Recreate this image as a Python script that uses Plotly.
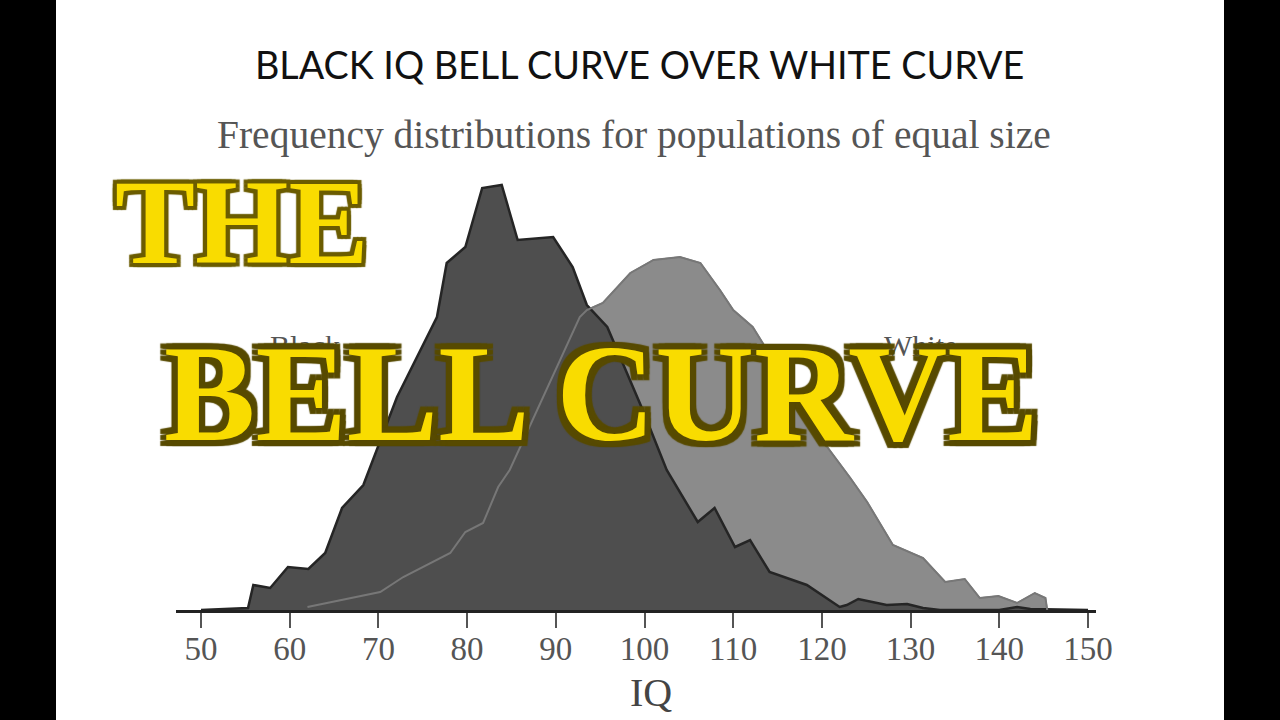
import plotly.graph_objects as go

# Values. Frequency is in arbitrary units (the original has no y scale).
black_iq = [50, 55.3, 55.9, 57.8, 59.8, 62.1, 64, 65.9, 68.3, 72.1, 76.6, 77.7, 79.8, 81.7, 83.9, 85.7, 89.7, 91.9, 93.5, 95.8, 99.8, 102.5, 106, 107.9, 110.2, 111.9, 114.1, 118.3, 122, 122.8, 124.1, 127.3, 129.6, 131.4, 133.3, 140, 142, 143.5, 150]
black_freq = [0, 2, 25, 22, 43, 41, 57, 102, 125, 213, 293, 347, 363, 422, 425, 370, 373, 343, 305, 283, 200, 140, 88, 102, 63, 70, 38, 25, 3, 5, 11, 5, 6, 2, 0, 0, 3, 1, 0]
white_iq = [62, 70.2, 72.8, 78.1, 79.8, 81.8, 83.5, 84.8, 92.7, 93.5, 95.3, 98.4, 100.6, 101, 104, 106.3, 108.5, 110, 112.2, 120.6, 123.2, 125.1, 128, 131.4, 133.9, 136.1, 137.8, 139.9, 142, 144, 145.2, 145.4]
white_freq = [3, 18, 33, 57, 78, 87, 123, 140, 293, 300, 307, 337, 348, 350, 353, 347, 320, 300, 283, 163, 132, 108, 65, 52, 28, 31, 12, 14, 7, 17, 12, 0]
x_ticks = [50, 60, 70, 80, 90, 100, 110, 120, 130, 140, 150]

TITLE = "BLACK IQ BELL CURVE OVER WHITE CURVE"
SUBTITLE = "Frequency distributions for populations of equal size"
W, H = 1280, 720


def px(x):
    return x / W


def py(y):
    return 1 - y / H


def outline(c, r):
    steps = [(-r, -r), (0, -r), (r, -r), (r, 0), (r, r), (0, r), (-r, r), (-r, 0)]
    return ", ".join(f"{a}px {b}px 1px {c}" for a, b in steps)


fig = go.Figure()
fig.add_trace(go.Scatter(x=white_iq, y=white_freq, mode="lines", fill="tozeroy",
                         fillcolor="#8b8b8b", line=dict(color="#838383", width=1.5), hoverinfo="skip"))
fig.add_trace(go.Scatter(x=black_iq, y=black_freq, mode="lines", fill="tozeroy",
                         fillcolor="#4e4e4e", line=dict(color="#252525", width=2.5), hoverinfo="skip"))
fig.add_trace(go.Scatter(x=white_iq, y=white_freq, mode="lines",
                         line=dict(color="#777777", width=2), hoverinfo="skip"))

serif = "Liberation Serif"
ann = [
    dict(x=px(639.5), y=py(64), text=TITLE, font=dict(family="Lato", size=37.7, color="#111111")),
    dict(x=px(633.5), y=py(135), text=SUBTITLE, font=dict(family=serif, size=39.5, color="#555555")),
    dict(x=px(651), y=py(692), text="IQ", font=dict(family=serif, size=40, color="#444444")),
    dict(x=px(305), y=py(345), text="Black", font=dict(family=serif, size=30, color="#555555")),
    dict(x=px(920), y=py(345), text="White", font=dict(family=serif, size=30, color="#555555")),
    dict(x=px(241), y=py(222), text="<b>THE</b>",
         font=dict(family=serif, size=120, color="#f9dc00", shadow=outline("#6b5c00", 4))),
    dict(x=px(601), y=py(394), text="<b>BELL CURVE</b>",
         font=dict(family=serif, size=137, color="#f9dc00", shadow=outline("#574a00", 6))),
]
for a in ann:
    a.update(xref="paper", yref="paper", xanchor="center", yanchor="middle", showarrow=False)

fig.update_layout(
    width=W, height=H, autosize=False,
    margin=dict(l=0, r=0, t=0, b=0),
    paper_bgcolor="white", plot_bgcolor="rgba(0,0,0,0)", showlegend=False,
    annotations=ann,
    shapes=[
        dict(type="rect", xref="paper", yref="paper", x0=0, x1=px(56), y0=0, y1=1,
             fillcolor="black", line_width=0),
        dict(type="rect", xref="paper", yref="paper", x0=px(1224), x1=1, y0=0, y1=1,
             fillcolor="black", line_width=0),
    ],
    xaxis=dict(
        domain=[px(176), px(1096)], range=[47.18, 150.9], automargin=False,
        tickmode="array", tickvals=x_ticks, ticks="outside", ticklen=15, tickwidth=2, tickcolor="#555555",
        ticklabelstandoff=-7,
        showline=True, linecolor="#222222", linewidth=2.5, showgrid=False, zeroline=False,
        tickfont=dict(family=serif, size=33, color="#555555"),
    ),
    yaxis=dict(domain=[py(610), py(170)], range=[0, 440], visible=False),
)

fig.write_html(
    "out.html",
    config={"displayModeBar": False, "responsive": False},
    default_width="1280px",
    default_height="720px",
    post_script="document.documentElement.style.margin='0';document.body.style.margin='0';document.documentElement.style.overflow='hidden';document.body.style.overflow='hidden';",
)
